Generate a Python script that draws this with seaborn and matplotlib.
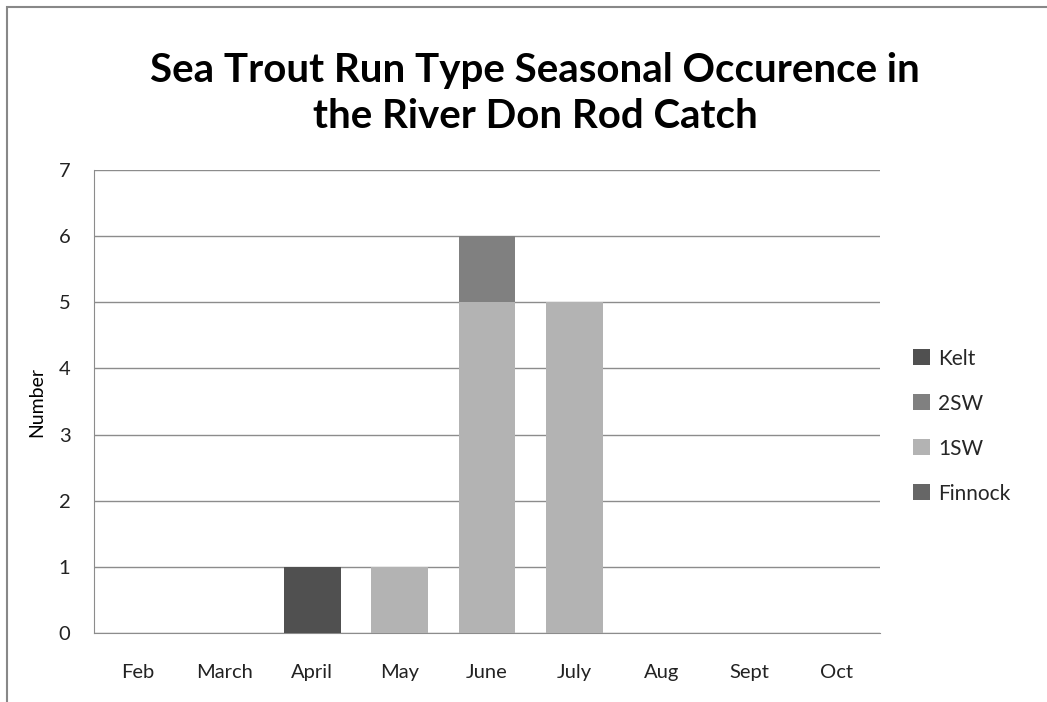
import matplotlib
matplotlib.use("Agg")
import matplotlib.pyplot as plt
import seaborn as sns
import numpy as np
from matplotlib.patches import Rectangle, Patch

months = ["Feb", "March", "April", "May", "June", "July", "Aug", "Sept", "Oct"]
finnock = [0, 0, 0, 0, 0, 0, 0, 0, 0]
sw1 = [0, 0, 0, 1, 5, 5, 0, 0, 0]
sw2 = [0, 0, 0, 0, 1, 0, 0, 0, 0]
kelt = [0, 0, 1, 0, 0, 0, 0, 0, 0]
series_names = ["Finnock", "1SW", "2SW", "Kelt"]
series_vals = [finnock, sw1, sw2, kelt]
colors = {"Finnock": "#666666", "1SW": "#b3b3b3", "2SW": "#808080", "Kelt": "#505050"}

sns.set_style("white")
plt.rcParams['font.family'] = ['Lato', 'DejaVu Sans']

fig = plt.figure(figsize=(10.47, 7.02), dpi=100)
ax = fig.add_axes([0.0898, 0.0983, 0.7507, 0.6595])

bottom = np.zeros(len(months))
for name, vals in zip(series_names, series_vals):
    sns.barplot(x=months, y=vals, order=months, color=colors[name], ax=ax,
                bottom=bottom, width=0.65, saturation=1, edgecolor="none", zorder=3)
    bottom = bottom + np.array(vals)

ax.set_ylim(0, 7)
ax.set_xlim(-0.5, len(months) - 0.5)
ax.set_yticks(range(0, 8))
ax.yaxis.grid(True, color="#8c8c8c", linewidth=1.0, zorder=0)
ax.set_axisbelow(True)
for s in ["top", "right"]:
    ax.spines[s].set_visible(False)
ax.spines["left"].set_color("#8c8c8c")
ax.spines["bottom"].set_color("#8c8c8c")
ax.tick_params(axis="both", length=0, labelsize=14.5, colors="#222222")
ax.tick_params(axis="x", pad=22)
ax.tick_params(axis="y", pad=17)
ax.set_xlabel("")
ax.set_ylabel("Number", fontsize=14, labelpad=10, color="#000000")

fig.text(0.511, 0.867, "Sea Trout Run Type Seasonal Occurence in\nthe River Don Rod Catch",
         ha="center", va="center", fontsize=29, fontweight="bold", linespacing=1.28,
         color="#000000")

handles = [Patch(facecolor=colors[n], edgecolor="none") for n in ["Kelt", "2SW", "1SW", "Finnock"]]
fig.legend(handles, ["Kelt", "2SW", "1SW", "Finnock"], loc="center left",
           bbox_to_anchor=(0.872, 0.393), frameon=False, fontsize=15,
           handlelength=0.8, handleheight=0.8, labelspacing=1.2, handletextpad=0.4,
           borderaxespad=0, borderpad=0)

fig.patches.append(Rectangle((7 / 1047, -0.1), 1.2, (702 - 7) / 702 + 0.1, transform=fig.transFigure,
                             fill=False, edgecolor="#888888", linewidth=1.5))

fig.savefig("out.png", dpi=100)
